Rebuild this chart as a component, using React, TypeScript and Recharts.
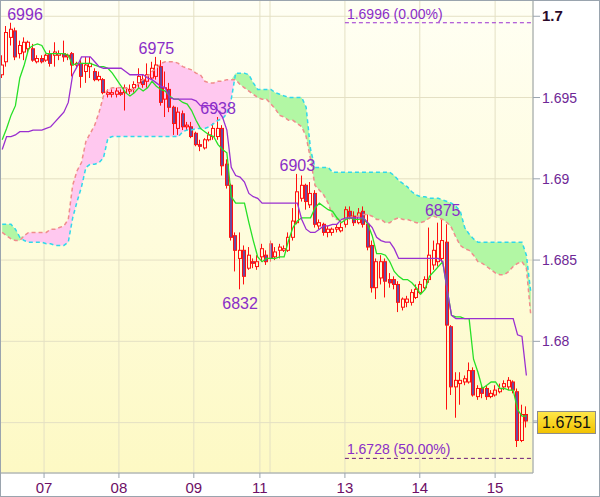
import React from "react";
import {
  ComposedChart,
  Bar,
  Line,
  Area,
  XAxis,
  YAxis,
  CartesianGrid,
  ReferenceLine,
  ReferenceDot,
} from "recharts";

const FONT = "'Liberation Sans', Arial, sans-serif";

// time axis (candle index positions of the day starts)
const dayLabels = ["07", "08", "09", "11", "13", "14", "15"];
const dayTicks = [9.5, 26.5, 43.5, 58.5, 77.8, 94.8, 111.9];
const sessionBreaks = [60.8];
const xMax = 120.5;

const priceTicks = [1.675, 1.68, 1.685, 1.69, 1.695, 1.7];
const priceTickLabels = ["", "1.68", "1.685", "1.69", "1.695", "1.7"];

const opens = [
  1.6964, 1.6972, 1.6987, 1.6991, 1.6977, 1.6978, 1.698, 1.698, 1.6972, 1.6974,
  1.6973, 1.6977, 1.6976, 1.6976, 1.6977, 1.6975, 1.6977, 1.697, 1.6971, 1.6966,
  1.6969, 1.6966, 1.6961, 1.6961, 1.6952, 1.6952, 1.6952, 1.6953, 1.6953, 1.6954,
  1.6956, 1.6959, 1.6961, 1.696, 1.6962, 1.6963, 1.6969, 1.6949, 1.6955, 1.6944,
  1.6931, 1.694, 1.6932, 1.6932, 1.6928, 1.6921, 1.6919, 1.6924, 1.6926, 1.6926,
  1.6931, 1.6909, 1.6896, 1.6865, 1.6851, 1.6856, 1.6845, 1.6849, 1.6846, 1.6852,
  1.6853, 1.686, 1.6852, 1.6856, 1.6856, 1.6856, 1.6864, 1.6873, 1.6888, 1.6896,
  1.6884, 1.6891, 1.6871, 1.6872, 1.6867, 1.6867, 1.6869, 1.6868, 1.6872, 1.688,
  1.6877, 1.6873, 1.688, 1.6872, 1.6859, 1.6833, 1.6839, 1.6849, 1.6838, 1.6838,
  1.6835, 1.6821, 1.6824, 1.6824, 1.6827, 1.683, 1.6833, 1.6838, 1.6847, 1.6849,
  1.6851, 1.6861, 1.6809, 1.6772, 1.6774, 1.6775, 1.6775, 1.6782, 1.6766, 1.6771,
  1.6771, 1.6766, 1.6767, 1.6769, 1.6772, 1.6772, 1.6775, 1.6769, 1.6739, 1.6755,
];
const highs = [
  1.6976, 1.6994, 1.6996, 1.6993, 1.6985, 1.6987, 1.6985, 1.6983, 1.6976, 1.6976,
  1.6977, 1.6979, 1.6984, 1.6979, 1.6985, 1.6977, 1.6978, 1.6972, 1.6973, 1.6975,
  1.6975, 1.6968, 1.6966, 1.6962, 1.6955, 1.6955, 1.6956, 1.6955, 1.6958, 1.6958,
  1.696, 1.6968, 1.6964, 1.6971, 1.6972, 1.6975, 1.6973, 1.6966, 1.6959, 1.6945,
  1.6944, 1.6942, 1.6935, 1.6935, 1.6929, 1.6924, 1.6925, 1.6929, 1.6934, 1.6938,
  1.6933, 1.6912, 1.6897, 1.6867, 1.6867, 1.6859, 1.6858, 1.6851, 1.6853, 1.686,
  1.6856, 1.6862, 1.6858, 1.686, 1.6859, 1.6867, 1.6882, 1.6903, 1.6902, 1.6897,
  1.6898, 1.6893, 1.6875, 1.6873, 1.6871, 1.687, 1.6872, 1.6873, 1.6883, 1.6883,
  1.688, 1.6882, 1.6883, 1.6878, 1.6862, 1.6851, 1.6853, 1.6851, 1.6842, 1.684,
  1.6837, 1.6827, 1.6828, 1.6832, 1.6835, 1.6837, 1.684, 1.687, 1.6862, 1.6873,
  1.6875, 1.6872, 1.681, 1.6781, 1.6781, 1.6779, 1.6787, 1.6784, 1.6773, 1.6773,
  1.6773, 1.677, 1.6773, 1.6774, 1.6776, 1.6778, 1.6776, 1.6771, 1.6761, 1.676,
];
const lows = [
  1.6962, 1.6969, 1.6982, 1.6973, 1.6974, 1.6973, 1.6978, 1.6972, 1.6971, 1.6971,
  1.6972, 1.6969, 1.6969, 1.6973, 1.6972, 1.6973, 1.6963, 1.6968, 1.6956, 1.6959,
  1.6962, 1.696, 1.696, 1.6952, 1.695, 1.695, 1.695, 1.6951, 1.6942, 1.6952,
  1.6953, 1.6956, 1.6956, 1.6956, 1.6961, 1.6961, 1.6945, 1.6938, 1.6941, 1.6927,
  1.6927, 1.693, 1.693, 1.6925, 1.692, 1.6917, 1.6918, 1.6923, 1.6924, 1.6924,
  1.6902, 1.6894, 1.6862, 1.6843, 1.6832, 1.6835, 1.6844, 1.6845, 1.6844, 1.6849,
  1.6847, 1.6849, 1.685, 1.6851, 1.6855, 1.6855, 1.6862, 1.6872, 1.6886, 1.6881,
  1.6882, 1.687, 1.6869, 1.6865, 1.6864, 1.6865, 1.6867, 1.6867, 1.687, 1.6875,
  1.6871, 1.6872, 1.687, 1.6856, 1.683, 1.6826, 1.6835, 1.6827, 1.6833, 1.6832,
  1.6818, 1.6819, 1.6821, 1.6822, 1.6826, 1.6829, 1.6832, 1.6836, 1.6844, 1.6846,
  1.6849, 1.6758, 1.6767, 1.6753, 1.6761, 1.6773, 1.6774, 1.6766, 1.6764, 1.6765,
  1.6764, 1.6765, 1.6766, 1.6768, 1.677, 1.677, 1.6768, 1.6735, 1.6738, 1.6747,
];
const closes = [
  1.697, 1.699, 1.6992, 1.6975, 1.6982, 1.6984, 1.6984, 1.6973, 1.6974, 1.6972,
  1.6976, 1.6971, 1.6978, 1.6977, 1.6975, 1.6976, 1.697, 1.6971, 1.6963, 1.697,
  1.6971, 1.6961, 1.6963, 1.6953, 1.6953, 1.6953, 1.6954, 1.6952, 1.6956, 1.6955,
  1.6958, 1.6963, 1.6958, 1.6964, 1.6968, 1.697, 1.6947, 1.6956, 1.6944, 1.6934,
  1.6941, 1.6932, 1.6933, 1.6926, 1.6921, 1.692, 1.6924, 1.6927, 1.6931, 1.6931,
  1.6908, 1.6896, 1.6864, 1.6856, 1.6856, 1.684, 1.6853, 1.6848, 1.6849, 1.6857,
  1.6849, 1.6851, 1.6855, 1.6858, 1.6857, 1.6864, 1.6874, 1.6892, 1.6896, 1.6886,
  1.6891, 1.6872, 1.6873, 1.6867, 1.6869, 1.6869, 1.687, 1.687, 1.6881, 1.6877,
  1.6873, 1.6879, 1.6872, 1.6858, 1.6833, 1.6849, 1.6849, 1.6837, 1.6836, 1.6835,
  1.6824, 1.6826, 1.6826, 1.683, 1.6832, 1.6835, 1.6838, 1.6853, 1.6856, 1.686,
  1.6862, 1.681, 1.6772, 1.6776, 1.6776, 1.6777, 1.6782, 1.6767, 1.6771, 1.6768,
  1.6766, 1.6768, 1.677, 1.6771, 1.6774, 1.6776, 1.677, 1.6739, 1.6755, 1.6751,
];

const tenkan = [
  1.6924, 1.6931, 1.6939, 1.6945, 1.6962, 1.697, 1.698, 1.6982, 1.6983, 1.6982,
  1.6977, 1.6977, 1.6977, 1.6977, 1.6977, 1.6976, 1.697, 1.6971, 1.6971, 1.6971,
  1.6971, 1.697, 1.6969, 1.6969, 1.6968, 1.6965, 1.6961, 1.6957, 1.6953, 1.6951,
  1.6953, 1.6956, 1.6954, 1.6956, 1.696, 1.6957, 1.6955, 1.6954, 1.6951, 1.6949,
  1.6949, 1.6947, 1.6946, 1.6942, 1.6936, 1.6931, 1.6929, 1.6927, 1.6926, 1.6921,
  1.6918, 1.6916, 1.6889, 1.6885, 1.6885, 1.6885, 1.6873, 1.6862, 1.6852, 1.6849,
  1.6851, 1.6851, 1.6851, 1.6852, 1.6852, 1.6862, 1.687, 1.6874, 1.6876, 1.6876,
  1.6876, 1.6882, 1.6885, 1.6883, 1.6881, 1.688, 1.6876, 1.6873, 1.6875, 1.6876,
  1.6875, 1.6875, 1.6876, 1.6872, 1.6865, 1.6854, 1.6854, 1.6853, 1.6849, 1.6843,
  1.684, 1.6838, 1.6838, 1.6836, 1.6833, 1.6829, 1.6832, 1.684, 1.6843, 1.6846,
  1.6849, 1.6832, 1.6816, 1.6815, 1.6815, 1.6814, 1.6814, 1.6789, 1.6781, 1.6771,
  1.6773, 1.6775, 1.6775, 1.6771, 1.6771, 1.677, 1.677, 1.6758, 1.6754, 1.6754,
];
const kijun = [
  1.6918, 1.6926, 1.6926, 1.6927, 1.6929, 1.6929, 1.6929, 1.693, 1.693, 1.693,
  1.6931, 1.6932, 1.6935, 1.6938, 1.6941, 1.6947, 1.6964, 1.6969, 1.6975, 1.6975,
  1.6975, 1.6972, 1.6969, 1.6968, 1.6968, 1.6968, 1.6968, 1.6968, 1.6966, 1.6964,
  1.6964, 1.6964, 1.6964, 1.6962, 1.6961, 1.6959, 1.6957, 1.6956, 1.695, 1.6949,
  1.6949, 1.6949, 1.6949, 1.6949, 1.6948, 1.6945, 1.6945, 1.6945, 1.6945, 1.6942,
  1.6938, 1.693, 1.6907, 1.6902, 1.6901, 1.6898, 1.6891, 1.6889, 1.6888, 1.6885,
  1.6885, 1.6885, 1.6885, 1.6885, 1.6885, 1.6885, 1.6885, 1.6885, 1.6875, 1.6869,
  1.6867, 1.6867, 1.6869, 1.6871, 1.6871, 1.6872, 1.6872, 1.6875, 1.6876, 1.6876,
  1.6876, 1.6876, 1.6876, 1.6873, 1.687, 1.6864, 1.6862, 1.6861, 1.6861, 1.6857,
  1.6851, 1.6851, 1.6851, 1.6851, 1.6851, 1.6851, 1.6851, 1.6851, 1.6851, 1.6851,
  1.6849, 1.6832, 1.6816, 1.6814, 1.6814, 1.6814, 1.6814, 1.6814, 1.6814, 1.6814,
  1.6814, 1.6814, 1.6814, 1.6814, 1.6814, 1.6814, 1.6814, 1.6804, 1.6803, 1.6779,
];

// cloud (already shifted forward), one value longer than the candles
const spanA = [
  1.6867, 1.6865, 1.6863, 1.6862, 1.6862, 1.6865, 1.6867, 1.6867, 1.6867, 1.6867,
  1.6867, 1.6869, 1.6869, 1.687, 1.6871, 1.6875, 1.6896, 1.6905, 1.691, 1.6923,
  1.6928, 1.6933, 1.6941, 1.6951, 1.6955, 1.6956, 1.6956, 1.6956, 1.6956, 1.6955,
  1.6955, 1.6959, 1.6961, 1.6963, 1.6966, 1.6968, 1.6971, 1.6972, 1.6972, 1.6972,
  1.6971, 1.6969, 1.6968, 1.6967, 1.6965, 1.6964, 1.696, 1.6959, 1.6959, 1.696,
  1.696, 1.6961, 1.6961, 1.6961, 1.6958, 1.6956, 1.6954, 1.6952, 1.695, 1.6949,
  1.6949, 1.6946, 1.6943, 1.6939, 1.6938, 1.6936, 1.6936, 1.6934, 1.6932, 1.6926,
  1.6912, 1.6896, 1.6893, 1.689, 1.6885, 1.6877, 1.6875, 1.6875, 1.6875, 1.6876,
  1.6877, 1.6877, 1.6878, 1.6878, 1.6877, 1.6875, 1.6875, 1.6873, 1.6873, 1.6875,
  1.6876, 1.6875, 1.6875, 1.6874, 1.6873, 1.6873, 1.6874, 1.6876, 1.6877, 1.6876,
  1.6875, 1.6873, 1.687, 1.6864, 1.6859, 1.6857, 1.6856, 1.6853, 1.6849, 1.6848,
  1.6846, 1.6844, 1.6842, 1.6841, 1.6841, 1.6843, 1.6846, 1.6848, 1.6849, 1.6845,
  1.6816,
];
const spanB = [
  1.6872, 1.6872, 1.6872, 1.6869, 1.6864, 1.6862, 1.6861, 1.6861, 1.6861, 1.6861,
  1.686, 1.686, 1.6859, 1.6859, 1.6859, 1.6861, 1.6876, 1.6886, 1.6895, 1.6907,
  1.6909, 1.6909, 1.691, 1.6913, 1.6925, 1.6926, 1.6926, 1.6926, 1.6926, 1.6926,
  1.6926, 1.6926, 1.6926, 1.6926, 1.6926, 1.6926, 1.6926, 1.6926, 1.6926, 1.6926,
  1.6926, 1.6929, 1.693, 1.693, 1.6931, 1.6931, 1.6931, 1.6932, 1.6934, 1.6936,
  1.6937, 1.694, 1.6949, 1.6965, 1.6965, 1.6965, 1.6964, 1.6959, 1.6955, 1.6955,
  1.6955, 1.6955, 1.6953, 1.6952, 1.6951, 1.695, 1.695, 1.695, 1.695, 1.6944,
  1.6918, 1.6907, 1.6907, 1.6907, 1.6907, 1.6904, 1.6904, 1.6904, 1.6904, 1.6904,
  1.6904, 1.6904, 1.6904, 1.6904, 1.6904, 1.6904, 1.6904, 1.6904, 1.6904, 1.6902,
  1.6899, 1.6897, 1.6895, 1.6892, 1.689, 1.6889, 1.6889, 1.6888, 1.6888, 1.6888,
  1.6887, 1.6886, 1.6885, 1.6883, 1.688, 1.687, 1.6866, 1.6863, 1.6861, 1.6861,
  1.6861, 1.6861, 1.6861, 1.6861, 1.6861, 1.6861, 1.6861, 1.6861, 1.6861, 1.6853,
  1.683,
];

// zigzag pivots labelled on the chart
const pivotIndex = [2, 35, 49, 67, 54, 100];
const pivotSide = ["high", "high", "high", "high", "low", "high"];

const fibLevels = [1.6996, 1.6728];
const fibPercents = ["0.00%", "50.00%"];
const fibStart = 77.8;

const lastClose = closes[closes.length - 1];

const rows = spanA.map((a, i) => {
  const b = spanB[i];
  const top = Math.max(a, b);
  const has = i < closes.length;
  return {
    i,
    o: has ? opens[i] : null,
    h: has ? highs[i] : null,
    l: has ? lows[i] : null,
    c: has ? closes[i] : null,
    range: has ? [lows[i], highs[i]] : null,
    tenkan: has ? tenkan[i] : null,
    kijun: has ? kijun[i] : null,
    spanA: a,
    spanB: b,
    pinkCloud: [b, top],
    greenCloud: [a, top],
  };
});

function Candle(props: any) {
  const { x, y, width, height, payload } = props;
  if (!payload || payload.h == null || x == null) return <g />;
  const { o, h, l, c } = payload;
  const top = Math.min(y, y + height);
  const bottom = Math.max(y, y + height);
  const k = h > l ? (bottom - top) / (h - l) : 0;
  const yOf = (v: number) => top + (h - v) * k;
  const cx = Math.round(x + width / 2);
  const bodyTop = yOf(Math.max(o, c));
  const bodyBot = Math.max(yOf(Math.min(o, c)), bodyTop + 1);
  const up = c >= o;
  return (
    <g>
      <line x1={cx - 0.5} x2={cx - 0.5} y1={yOf(h)} y2={bodyTop} stroke="#ff1010" strokeWidth={1} />
      <line x1={cx - 0.5} x2={cx - 0.5} y1={bodyBot} y2={yOf(l)} stroke="#ff1010" strokeWidth={1} />
      <rect
        x={cx - 1.5}
        y={bodyTop}
        width={3}
        height={bodyBot - bodyTop}
        fill={up ? "none" : "#6c4a9e"}
        stroke="#ff1010"
        strokeWidth={1}
      />
    </g>
  );
}

function DayTick(props: any) {
  const { x, y, payload } = props;
  const k = dayTicks.indexOf(payload.value);
  return (
    <text x={x} y={y} dy={13} textAnchor="middle" fontSize={15} fill="#6d0f66" fontFamily={FONT}>
      {dayLabels[k]}
    </text>
  );
}

function PriceTick(props: any) {
  const { x, y, payload } = props;
  const k = priceTicks.indexOf(payload.value);
  const isTop = k === priceTicks.length - 1;
  return (
    <text
      x={x}
      y={y}
      dy={5}
      textAnchor="start"
      fontSize={isTop ? 15 : 14}
      fontWeight={isTop ? "bold" : "normal"}
      fill={isTop ? "#2a0a2a" : "#6e2796"}
      fontFamily={FONT}
    >
      {priceTickLabels[k]}
    </text>
  );
}

function PivotLabel(props: any) {
  const { cx, cy, side, value } = props;
  const text = String(Math.round(value * 10000)).slice(1);
  const tx = Math.max(cx, 25);
  return (
    <text
      x={tx}
      y={side === "high" ? cy - 3 : cy + 20}
      textAnchor="middle"
      fontSize={16}
      fill="#8a2ec8"
      fontFamily={FONT}
    >
      {text}
    </text>
  );
}

function FibLabel(props: any) {
  const { cx, cy, level, pct } = props;
  return (
    <text x={cx + 2} y={cy - 4} fontSize={14} fill="#8a2ec8" fontFamily={FONT}>
      {`${level.toFixed(4)} (${pct})`}
    </text>
  );
}

function PriceTag(props: any) {
  const { cx, cy, value } = props;
  return (
    <g>
      <line x1={cx} x2={cx + 4} y1={cy} y2={cy} stroke="#9aa4ae" />
      <rect x={cx + 4.5} y={cy - 9.5} width={58} height={22} fill="url(#tagBg)" stroke="#8c8c8c" />
      <text x={cx + 33.5} y={cy + 7.5} textAnchor="middle" fontSize={16} fill="#111" fontFamily={FONT}>
        {value.toFixed(4)}
      </text>
    </g>
  );
}

export default function App() {
  return (
    <div style={{ position: "absolute", left: 0, top: 0, width: 600, height: 497, background: "#fff" }}>
      <ComposedChart width={600} height={497} data={rows} margin={{ top: 0, right: 0, bottom: 0, left: 0 }}>
        <defs>
          <linearGradient id="plotBg" x1="0" y1="0" x2="0" y2="1">
            <stop offset="0%" stopColor="#fffff4" />
            <stop offset="100%" stopColor="#fdf9c4" />
          </linearGradient>
          <linearGradient id="tagBg" x1="0" y1="0" x2="0" y2="1">
            <stop offset="0%" stopColor="#ffe84a" />
            <stop offset="100%" stopColor="#f2c200" />
          </linearGradient>
        </defs>
        <CartesianGrid stroke="#e4e0c4" fill="url(#plotBg)" fillOpacity={1} />
        <XAxis
          dataKey="i"
          type="number"
          domain={[-0.5, xMax]}
          ticks={dayTicks}
          interval={0}
          allowDataOverflow
          height={24}
          axisLine={{ stroke: "#9aa4ae" }}
          tickLine={{ stroke: "#9aa4ae" }}
          tickSize={5}
          tick={<DayTick />}
        />
        <YAxis
          orientation="right"
          type="number"
          domain={[1.6719, 1.701]}
          ticks={priceTicks}
          interval={0}
          allowDataOverflow
          width={67}
          axisLine={{ stroke: "#9aa4ae" }}
          tickLine={{ stroke: "#9aa4ae" }}
          tickSize={7}
          tick={<PriceTick />}
        />
        {sessionBreaks.map((b) => (
          <ReferenceLine key={`sb${b}`} x={b} stroke="#e4e0c4" />
        ))}
        <Area
          dataKey="pinkCloud"
          type="linear"
          stroke="none"
          fill="#ffc8ef"
          fillOpacity={1}
          dot={false}
          activeDot={false}
          isAnimationActive={false}
        />
        <Area
          dataKey="greenCloud"
          type="linear"
          stroke="none"
          fill="#b2f7a4"
          fillOpacity={1}
          dot={false}
          activeDot={false}
          isAnimationActive={false}
        />
        <Line
          dataKey="spanA"
          type="linear"
          stroke="#f08c8c"
          strokeWidth={1.5}
          strokeDasharray="4 3"
          dot={false}
          activeDot={false}
          isAnimationActive={false}
        />
        <Line
          dataKey="spanB"
          type="linear"
          stroke="#30d8ea"
          strokeWidth={1.5}
          strokeDasharray="4 3"
          dot={false}
          activeDot={false}
          isAnimationActive={false}
        />
        <Bar dataKey="range" barSize={4} shape={(p: any) => <Candle {...p} />} isAnimationActive={false} />
        <Line
          dataKey="tenkan"
          type="linear"
          stroke="#27e027"
          strokeWidth={1.3}
          dot={false}
          activeDot={false}
          isAnimationActive={false}
        />
        <Line
          dataKey="kijun"
          type="linear"
          stroke="#9a2fd0"
          strokeWidth={1.3}
          dot={false}
          activeDot={false}
          isAnimationActive={false}
        />
        {fibLevels.map((lv, k) => (
          <ReferenceLine
            key={`fib${k}`}
            segment={[
              { x: fibStart, y: lv },
              { x: xMax, y: lv },
            ]}
            stroke={k === 0 ? "#9a2fd0" : "#6a1a7a"}
            strokeDasharray="4 3"
            ifOverflow="visible"
          />
        ))}
        {fibLevels.map((lv, k) => (
          <ReferenceDot
            key={`fibl${k}`}
            x={fibStart}
            y={lv}
            r={0}
            ifOverflow="visible"
            shape={(p: any) => <FibLabel {...p} level={lv} pct={fibPercents[k]} />}
          />
        ))}
        {pivotIndex.map((idx, k) => {
          const v = pivotSide[k] === "high" ? highs[idx] : lows[idx];
          return (
            <ReferenceDot
              key={`pv${k}`}
              x={idx}
              y={v}
              r={0}
              ifOverflow="visible"
              shape={(p: any) => <PivotLabel {...p} side={pivotSide[k]} value={v} />}
            />
          );
        })}
        <ReferenceDot
          x={xMax}
          y={lastClose}
          r={0}
          ifOverflow="visible"
          shape={(p: any) => <PriceTag {...p} value={lastClose} />}
        />
      </ComposedChart>
      <div
        style={{
          position: "absolute",
          left: 0,
          top: 0,
          width: 600,
          height: 497,
          boxSizing: "border-box",
          border: "1px solid #9aa4ae",
          pointerEvents: "none",
        }}
      />
    </div>
  );
}
